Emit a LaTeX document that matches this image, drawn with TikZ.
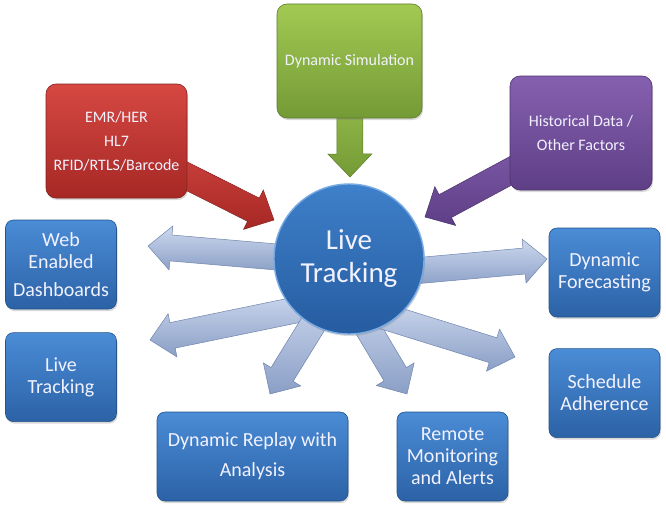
\documentclass[tikz,border=0pt]{standalone}
\usepackage{fontspec}
\setmainfont{Carlito}
\usetikzlibrary{backgrounds,calc,positioning,shadows}

\definecolor{boxtop}{RGB}{74,140,214}
\definecolor{boxbot}{RGB}{44,98,166}
\definecolor{hubtop}{RGB}{62,128,202}
\definecolor{hubbot}{RGB}{38,92,160}
\definecolor{hubrim}{RGB}{120,170,228}
\definecolor{redtop}{RGB}{214,72,66}
\definecolor{redbot}{RGB}{166,40,37}
\definecolor{grntop}{RGB}{162,202,82}
\definecolor{grnbot}{RGB}{116,154,54}
\definecolor{purtop}{RGB}{134,96,176}
\definecolor{purbot}{RGB}{94,63,134}
\definecolor{arrtop}{RGB}{205,216,238}
\definecolor{arrbot}{RGB}{138,159,198}
\definecolor{arrline}{RGB}{112,132,172}
\definecolor{boxtext}{RGB}{242,242,255}

% block arrow from #2 to #3, tip at #3
\newcommand{\blockarrow}[3][]{%
  \path let \p1=(#2), \p2=(#3) in
    \pgfextra{%
      \pgfmathsetmacro\barang{atan2(\y2-\y1,\x2-\x1)}%
      \pgfmathsetmacro\barlen{veclen(\x2-\x1,\y2-\y1)}%
      \xdef\barang{\barang}\xdef\barlen{\barlen}%
      \xdef\barx{\x1}\xdef\bary{\y1}};
  \path[barr,#1,shift={(\barx,\bary)},rotate=\barang]
    (0,-13) -- (\barlen-23,-13) -- (\barlen-23,-22) -- (\barlen,0)
    -- (\barlen-23,22) -- (\barlen-23,13) -- (0,13) -- cycle;}

\begin{document}
\begin{tikzpicture}[
  x=1pt, y=-1pt,
  box/.style={draw=boxbot!85!black, line width=0.6pt, rounded corners=8pt,
              top color=boxtop, bottom color=boxbot, text=boxtext,
              align=center, font=\fontsize{20}{22}\selectfont, inner sep=2pt,
              minimum width=111pt, minimum height=89pt,
              drop shadow={opacity=.3, shadow xshift=1pt, shadow yshift=-2pt}},
  src/.style={box, rounded corners=10pt, minimum width=142pt, minimum height=114pt,
              font=\fontsize{16}{24}\selectfont},
  hubst/.style={circle, minimum size=150pt, draw=hubrim, line width=1.4pt,
              top color=hubtop, bottom color=hubbot, text=boxtext, align=center,
              font=\fontsize{29}{33}\selectfont,
              drop shadow={opacity=.3, shadow xshift=1pt, shadow yshift=-2pt}},
  barr/.style={draw=arrline, line width=0.5pt, top color=arrtop, bottom color=arrbot},
  redarr/.style={draw=redbot!80!black, top color=redtop, bottom color=redbot},
  grnarr/.style={draw=grnbot!80!black, top color=grntop, bottom color=grnbot},
  purarr/.style={draw=purbot!80!black, top color=purtop, bottom color=purbot},
  node distance=23pt,
]
  \useasboundingbox (0,0) rectangle (666,511);

  % inputs
  \node[src, draw=redbot!80!black, top color=redtop, bottom color=redbot,
        minimum width=141pt] (ehr) at (116.5,141) {EMR/HER\\HL7\\RFID/RTLS/Barcode};
  \node[src, draw=grnbot!80!black, top color=grntop, bottom color=grnbot,
        minimum width=145pt] (sim) at (349.5,61) {Dynamic Simulation};
  \node[src, draw=purbot!80!black, top color=purtop, bottom color=purbot]
        (hist) at (581,133) {Historical Data /\\Other Factors};

  \node[hubst] (hub) at (349,259) {Live\\Tracking};

  % outputs
  \node[box] (web) at (61,264.5) {Web\\Enabled\\[6pt]Dashboards};
  \node[box, below=of web] (live) {Live\\Tracking};
  \node[box, minimum width=191pt] (replay) at (252.5,456.5)
        {Dynamic Replay with\\[8pt]Analysis};
  \node[box] (remote) at (452.5,456.5) {Remote\\Monitoring\\and Alerts};
  \node[box] (fore) at (604.5,272.5) {Dynamic\\Forecasting};
  \node[box, below=31pt of fore] (sched) {Schedule\\Adherence};

  \coordinate (inEhr) at (274,220);
  \coordinate (inSim) at (350,177);
  \coordinate (inHist) at (425,217);
  \coordinate (toWeb) at (148,246);
  \coordinate (toLive) at (150,340);
  \coordinate (toReplay) at (270,394);
  \coordinate (toRemote) at (407,394);
  \coordinate (toSched) at (515,357);
  \coordinate (toFore) at (547,259);

  \begin{scope}[on background layer]
    \blockarrow[redarr]{ehr}{inEhr}
    \blockarrow[grnarr]{sim}{inSim}
    \blockarrow[purarr]{hist}{inHist}
    \blockarrow{$(hub)+(-49,0)$}{toWeb}
    \blockarrow{$(hub)+(-29,46)$}{toLive}
    \blockarrow{$(hub)+(-21,41)$}{toReplay}
    \blockarrow{$(hub)+(2,41)$}{toRemote}
    \blockarrow{$(hub)+(21,53)$}{toSched}
    \blockarrow{$(hub)+(31,15)$}{toFore}
  \end{scope}
\end{tikzpicture}
\end{document}
